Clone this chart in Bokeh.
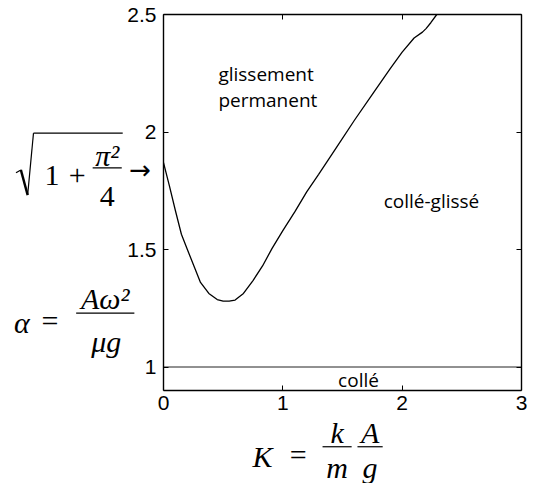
from bokeh.plotting import figure
from bokeh.models import Label, Arrow, LinearAxis, FixedTicker, ColumnDataSource
from bokeh.embed import file_html
from bokeh.resources import INLINE

# ---- data ----
K_curve = [0.00, 0.05, 0.10, 0.15, 0.20, 0.26, 0.31, 0.38, 0.45, 0.50, 0.55, 0.60,
           0.67, 0.75, 0.83, 0.91, 1.00, 1.10, 1.20, 1.30, 1.45, 1.60, 1.75, 1.90,
           2.00, 2.10, 2.17, 2.20, 2.24, 2.29]
alpha_curve = [1.87, 1.77, 1.665, 1.565, 1.50, 1.423, 1.36, 1.313, 1.287, 1.28, 1.28, 1.285,
               1.313, 1.368, 1.43, 1.505, 1.58, 1.66, 1.745, 1.82, 1.935, 2.05, 2.16, 2.27,
               2.34, 2.40, 2.425, 2.44, 2.465, 2.50]
K_stick = [0.0, 3.0]
alpha_stick = [1.0, 1.0]
x_ticks = [0, 1, 2, 3]
x_tick_labels = ["0", "1", "2", "3"]
y_ticks = [1.0, 1.5, 2.0, 2.5]
y_tick_labels = ["1", "1.5", "2", "2.5"]
x_lim = (0.0, 3.0)
y_lim = (0.9, 2.5)

# ---- layout (canvas pixels) ----
W, H = 527, 483
FX, FY = 0.970, 0.968            # squeeze of the 543x499 layout into the canvas
BL, BR, BT, BB = 163, 521, 14, 390  # axes box on the canvas
sx = (BR - BL) / (x_lim[1] - x_lim[0])
sy = (BB - BT) / (y_lim[1] - y_lim[0])
x_start = x_lim[0] - BL / sx
x_end = x_lim[1] + (W - BR) / sx
y_end = y_lim[1] + BT / sy
y_start = y_lim[0] - (H - BB) / sy

p = figure(width=W, height=H, x_range=(x_start, x_end), y_range=(y_start, y_end),
           output_backend="svg", toolbar_location=None,
           x_axis_type=None, y_axis_type=None,
           min_border_left=0, min_border_right=0,
           min_border_top=0, min_border_bottom=0)
p.background_fill_color = "white"
p.border_fill_color = "white"
p.outline_line_color = None


def style_axis(ax, standoff):
    ax.major_tick_in = 5
    ax.major_tick_out = 0
    ax.minor_tick_line_color = None
    ax.axis_line_color = "black"
    ax.axis_line_width = 1.4
    ax.major_tick_line_color = "black"
    ax.major_tick_line_width = 1
    ax.major_label_text_font = "Liberation Sans"
    ax.major_label_text_font_size = "21px"
    ax.major_label_text_color = "black"
    ax.major_label_standoff = standoff


xb = LinearAxis(ticker=FixedTicker(ticks=x_ticks), fixed_location=y_lim[0], bounds=x_lim,
                major_label_overrides=dict(zip(x_ticks, x_tick_labels)))
style_axis(xb, 5)
p.add_layout(xb, "below")
xa = LinearAxis(ticker=FixedTicker(ticks=x_ticks), fixed_location=y_lim[1], bounds=x_lim,
                major_label_overrides={t: "" for t in x_ticks})
style_axis(xa, 0)
p.add_layout(xa, "above")
yl = LinearAxis(ticker=FixedTicker(ticks=y_ticks), fixed_location=x_lim[0], bounds=y_lim,
                major_label_overrides=dict(zip(y_ticks, y_tick_labels)))
style_axis(yl, 7)
p.add_layout(yl, "left")
yr = LinearAxis(ticker=FixedTicker(ticks=y_ticks), fixed_location=x_lim[1], bounds=y_lim,
                major_label_overrides={t: "" for t in y_ticks})
style_axis(yr, 0)
p.add_layout(yr, "right")

p.line(K_stick, alpha_stick, line_color="#222222", line_width=1)
p.line(K_curve, alpha_curve, line_color="black", line_width=1.3)


# ---- helpers: reference-layout pixel -> data coords for annotations ----
def dx(px):
    return x_start + px * FX / sx


def dy(py):
    return y_end - py * FY / sy


MATH_SIZE = "30px"


def txt(text, x, y, size=MATH_SIZE, font="Liberation Serif", style="italic",
        align="center", baseline="alphabetic"):
    p.add_layout(Label(x=dx(x), y=dy(y), text=text, text_font=font,
                       text_font_size=size, text_font_style=style,
                       text_align=align, text_baseline=baseline,
                       text_color="black"))


thin = dict(x0=[], y0=[], x1=[], y1=[])
thick = dict(x0=[], y0=[], x1=[], y1=[])


def seg(store, xa_, ya_, xb_, yb_):
    store["x0"].append(dx(xa_)); store["y0"].append(dy(ya_))
    store["x1"].append(dx(xb_)); store["y1"].append(dy(yb_))


# region labels (inside the plot)
region_font = "Open Sans"
for text, x, y, align in [("glissement", 0.46, 2.245, "left"),
                          ("permanent", 0.46, 2.135, "left"),
                          ("collé-glissé", 1.845, 1.705, "left"),
                          ("collé", 1.634, 0.944, "center")]:
    p.add_layout(Label(x=x, y=y, text=text, text_font=region_font,
                       text_font_size="19px", text_baseline="middle",
                       text_align=align, text_color="black"))

# sqrt(1 + pi^2/4) ->
seg(thin, 16, 178, 21, 175)
seg(thick, 21, 175, 28, 201)
seg(thin, 28, 201, 34, 137)
seg(thin, 34, 137, 126, 137)
seg(thin, 95, 173, 125, 173)
txt("1", 53, 181, style="normal")
txt("+", 79, 181, style="normal")
txt("π²", 110, 160)
txt("4", 110, 202, style="normal")
txt("→", 144, 175, size="26px", font="DejaVu Sans", style="normal", baseline="middle")

# alpha = A w^2 / (mu g)
txt("α", 22, 333)
txt("=", 51, 331, style="normal")
seg(thin, 78, 323, 138, 323)
txt("Aω²", 108, 308)
txt("μg", 109, 352)

# K = k/m A/g
txt("K", 270, 471)
txt("=", 307, 469, style="normal")
seg(thin, 332, 461, 362, 461)
seg(thin, 368, 461, 394, 461)
txt("k", 347, 446)
txt("A", 381, 446)
txt("m", 347, 482)
txt("g", 381, 482)

p.add_layout(Arrow(start=None, end=None, x_start="x0", y_start="y0",
                   x_end="x1", y_end="y1", source=ColumnDataSource(thin),
                   line_color="black", line_width=1.2))
p.add_layout(Arrow(start=None, end=None, x_start="x0", y_start="y0",
                   x_end="x1", y_end="y1", source=ColumnDataSource(thick),
                   line_color="black", line_width=2.4))

open("out.html", "w").write(file_html(p, INLINE))
